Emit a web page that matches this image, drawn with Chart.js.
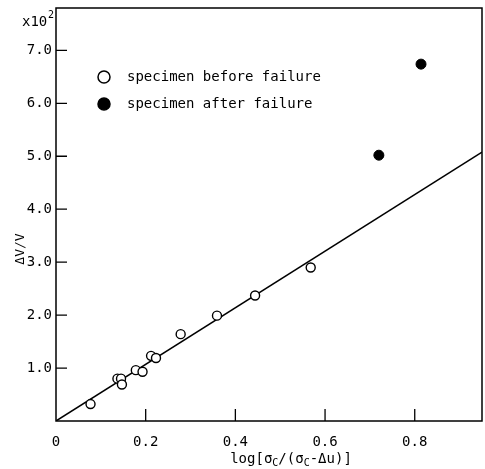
<!DOCTYPE html>
<html>
<head>
<meta charset="utf-8">
<script src="https://cdn.jsdelivr.net/npm/chart.js@4/dist/chart.umd.min.js"></script>
<style>
  body { margin: 0; background: #fff; }
  #wrap { width: 485px; height: 469px; }
</style>
</head>
<body>
<div id="wrap"><canvas id="chart" width="485" height="469"></canvas></div>
<script>
// values
let x_before = [0.077, 0.137, 0.145, 0.147, 0.178, 0.193, 0.212, 0.223, 0.278, 0.359, 0.444, 0.568]
let y_before = [0.32, 0.80, 0.80, 0.69, 0.96, 0.93, 1.23, 1.19, 1.64, 1.99, 2.37, 2.90]
let x_after = [0.720, 0.814]
let y_after = [5.02, 6.74]
let x_fit = [0, 0.95]
let y_fit = [0, 5.08]
let x_ticks = [0, 0.2, 0.4, 0.6, 0.8]
let y_ticks = [1, 2, 3, 4, 5, 6, 7]

let font = "'DejaVu Sans Mono', monospace"

function toPoints(xs, ys) {
    return xs.map((x, i) => ({x: x, y: ys[i]}))
}

// frame, inward tick marks, axis titles and legend
let decorations = {
    id: 'decorations',
    afterDraw(chart) {
        let ctx = chart.ctx
        let area = chart.chartArea
        let xs = chart.scales.x
        let ys = chart.scales.y
        ctx.save()
        ctx.strokeStyle = '#000'
        ctx.lineWidth = 1.5
        ctx.strokeRect(area.left, area.top, area.right - area.left, area.bottom - area.top)

        ctx.lineWidth = 1.3
        ctx.beginPath()
        y_ticks.forEach(v => {
            let py = ys.getPixelForValue(v)
            ctx.moveTo(area.left, py)
            ctx.lineTo(area.left + 11, py)
        })
        x_ticks.slice(1).forEach(v => {
            let px = xs.getPixelForValue(v)
            ctx.moveTo(px, area.bottom)
            ctx.lineTo(px, area.bottom - 12)
        })
        ctx.stroke()

        ctx.fillStyle = '#000'
        ctx.textBaseline = 'middle'

        // x10^2
        ctx.font = '14px ' + font
        ctx.textAlign = 'left'
        ctx.fillText('x10', 22, 22)
        ctx.font = '10px ' + font
        ctx.fillText('2', 48, 15)

        // y title
        ctx.save()
        ctx.translate(21, 249)
        ctx.rotate(-Math.PI / 2)
        ctx.font = '13px ' + font
        ctx.textAlign = 'center'
        ctx.fillText('\u0394V/V', 0, 0)
        ctx.restore()

        // x title with subscripts
        let parts = [['log[\u03c3', 0], ['C', 1], ['/(\u03c3', 0], ['C', 1], ['-\u0394u)]', 0]]
        let widths = parts.map(p => {
            ctx.font = (p[1] ? '10px ' : '14px ') + font
            return ctx.measureText(p[0]).width
        })
        let total = widths.reduce((a, b) => a + b, 0)
        let cx = 291 - total / 2
        parts.forEach((p, i) => {
            ctx.font = (p[1] ? '10px ' : '14px ') + font
            ctx.fillText(p[0], cx, p[1] ? 463 : 459)
            cx += widths[i]
        })

        // legend
        let rows = [[chart.data.datasets[0], 77], [chart.data.datasets[1], 104]]
        rows.forEach(r => {
            let ds = r[0]
            ctx.beginPath()
            ctx.arc(104, r[1], 6, 0, Math.PI * 2)
            ctx.lineWidth = 1.5
            ctx.fillStyle = ds.backgroundColor
            ctx.fill()
            ctx.stroke()
            ctx.fillStyle = '#000'
            ctx.font = '14px ' + font
            ctx.textAlign = 'left'
            ctx.fillText(ds.label, 127, r[1])
        })
        ctx.restore()
    }
}

let chart = new Chart(document.getElementById('chart').getContext('2d'), {
    type: 'scatter',
    data: {
        datasets: [{
            label: 'specimen before failure',
            data: toPoints(x_before, y_before),
            backgroundColor: '#fff',
            borderColor: '#000',
            borderWidth: 1.4,
            pointRadius: 4.5
        }, {
            label: 'specimen after failure',
            data: toPoints(x_after, y_after),
            backgroundColor: '#000',
            borderColor: '#000',
            borderWidth: 1,
            pointRadius: 5
        }, {
            type: 'line',
            label: 'fit',
            data: toPoints(x_fit, y_fit),
            borderColor: '#000',
            borderWidth: 1.5,
            pointRadius: 0,
            fill: false,
            order: 5
        }]
    },
    options: {
        responsive: false,
        animation: false,
        layout: { autoPadding: false, padding: { top: 8, right: 3, left: 0, bottom: 0 } },
        plugins: { legend: { display: false }, tooltip: { enabled: false } },
        scales: {
            x: {
                type: 'linear',
                min: 0,
                max: 0.95,
                afterFit: s => { s.height = 48; s.paddingLeft = 0; s.paddingRight = 0 },
                grid: { display: false, drawTicks: false },
                border: { display: false },
                ticks: {
                    stepSize: 0.2,
                    includeBounds: false,
                    autoSkip: false,
                    padding: 13,
                    color: '#000',
                    font: { family: font, size: 14 },
                    callback: v => x_ticks.some(t => Math.abs(t - v) < 1e-6) ? (v == 0 ? '0' : v.toFixed(1)) : ''
                }
            },
            y: {
                type: 'linear',
                min: 0,
                max: 7.8,
                afterFit: s => { s.width = 56; s.paddingTop = 0; s.paddingBottom = 0 },
                grid: { display: false, drawTicks: false },
                border: { display: false },
                ticks: {
                    stepSize: 1,
                    includeBounds: false,
                    autoSkip: false,
                    padding: 4,
                    color: '#000',
                    font: { family: font, size: 14 },
                    callback: v => y_ticks.includes(v) ? v.toFixed(1) : ''
                }
            }
        }
    },
    plugins: [decorations]
})
</script>
</body>
</html>
